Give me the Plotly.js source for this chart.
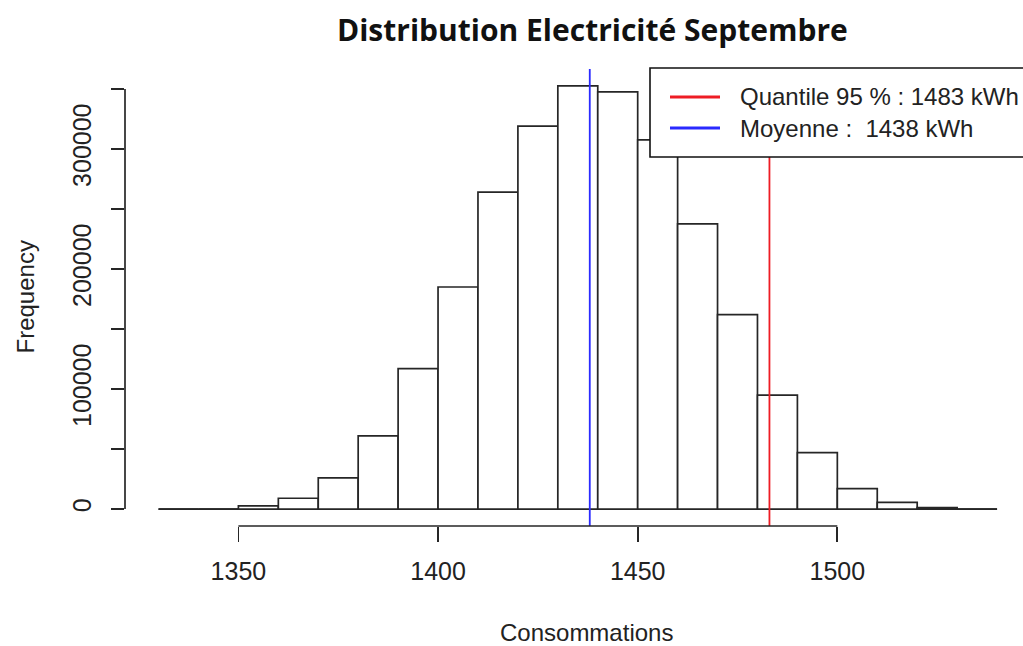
<!DOCTYPE html>
<html>
<head>
<meta charset="utf-8">
<script src="https://cdn.plot.ly/plotly-3.0.1.min.js"></script>
<style>html,body{margin:0;padding:0;background:#fff;}</style>
</head>
<body>
<div id="chart" style="width:1023px;height:646px;"></div>
<script>
// ---- data ----
const binStarts = [1330, 1340, 1350, 1360, 1370, 1380, 1390, 1400, 1410, 1420, 1430, 1440, 1450, 1460, 1470, 1480, 1490, 1500, 1510, 1520, 1530];
const counts    = [0, 0, 2700, 9000, 26000, 61000, 117000, 185000, 264000, 319000, 352500, 347500, 307500, 237500, 162000, 95000, 47000, 17000, 5500, 1200, 0];
const binWidth = 10;
const meanValue = 1438;
const quantile95 = 1483;
const xTickVals = [1350, 1400, 1450, 1500];
const yTickVals = [0, 50000, 100000, 150000, 200000, 250000, 300000, 350000];
const yTickText = ["0", "", "100000", "", "200000", "", "300000", ""];
const titleText = "Distribution Electricité Septembre";
const xTitle = "Consommations";
const yTitle = "Frequency";
const legendLabels = ['Quantile 95 % : ' + quantile95 + ' kWh', 'Moyenne :\u00a0 ' + meanValue + ' kWh'];
const legendColors = ['#ee1c24', '#2a2aff'];

// ---- derived ----
const centers = binStarts.map(b => b + binWidth / 2);
const xMinData = binStarts[0];
const xMaxData = binStarts[binStarts.length - 1] + binWidth;
const maxCount = Math.max(...counts);
const xr = [xMinData - 0.04 * (xMaxData - xMinData), 1546.5];
const yr = [-0.04 * maxCount, 1.04 * maxCount];

const axCol = '#262626';
const fontFam = 'Liberation Sans, Arial, sans-serif';

// plot-area pixel helpers for the legend box (plot area: x 125..1023, y 69..526)
const PL = 125, PW = 898, PT = 69, PH = 457;
const px = v => (v - PL) / PW;
const py = v => (PT + PH - v) / PH;

const traces = [
  {
    type: 'bar', x: centers, y: counts, width: binWidth,
    marker: {color: '#ffffff', line: {color: axCol, width: 1.7}},
    showlegend: false, hoverinfo: 'skip'
  },
  {
    type: 'scatter', mode: 'lines', x: [quantile95, quantile95], y: [0, 1], yaxis: 'y2',
    line: {color: legendColors[0], width: 1.8}, showlegend: false, hoverinfo: 'skip'
  },
  {
    type: 'scatter', mode: 'lines', x: [meanValue, meanValue], y: [0, 1], yaxis: 'y2',
    line: {color: legendColors[1], width: 1.8}, showlegend: false, hoverinfo: 'skip'
  }
];

const shapes = [
  {type: 'line', xref: 'x', yref: 'paper', x0: xTickVals[0], x1: xTickVals[xTickVals.length - 1], y0: 0, y1: 0, line: {color: axCol, width: 1.7}},
  {type: 'line', xref: 'paper', yref: 'y', x0: 0, x1: 0, y0: yTickVals[0], y1: yTickVals[yTickVals.length - 1], line: {color: axCol, width: 1.7}},
  {type: 'line', xref: 'x', yref: 'y', x0: xMinData, x1: xMaxData, y0: 0, y1: 0, line: {color: axCol, width: 1.7}, layer: 'below'},
  // legend box
  {type: 'rect', xref: 'paper', yref: 'paper', x0: px(650), x1: px(1040), y0: py(157), y1: py(68),
   fillcolor: '#ffffff', line: {color: '#111', width: 1.6}, layer: 'above'}
];
const annotations = [
  {text: '<b>' + titleText + '</b>', xref: 'paper', yref: 'paper', x: px(592), y: 1, yshift: 40, xanchor: 'center', yanchor: 'middle', showarrow: false,
   font: {family: 'Open Sans, sans-serif', size: 30, color: '#111'}},
  {text: xTitle, xref: 'paper', yref: 'paper', x: px(586), y: 0, yshift: -106, xanchor: 'center', yanchor: 'middle', showarrow: false,
   font: {size: 24, color: '#222'}},
  {text: yTitle, xref: 'paper', yref: 'paper', x: 0, xshift: -100, y: 0.5, xanchor: 'center', yanchor: 'middle', showarrow: false, textangle: -90,
   font: {size: 24, color: '#222'}}
];
legendLabels.forEach((lab, i) => {
  const yy = 97 + i * 31;
  shapes.push({type: 'line', xref: 'paper', yref: 'paper', x0: px(670), x1: px(720), y0: py(yy), y1: py(yy),
    line: {color: legendColors[i], width: 3}, layer: 'above'});
  annotations.push({text: lab, xref: 'paper', yref: 'paper', x: px(738), y: py(yy), xanchor: 'left', yanchor: 'middle',
    showarrow: false, font: {size: 24, color: '#222'}});
});

const layout = {
  width: 1023, height: 646,
  margin: {l: PL, r: 0, t: PT, b: 646 - PT - PH},
  paper_bgcolor: '#ffffff', plot_bgcolor: '#ffffff',
  font: {family: fontFam, color: '#222'},
  bargap: 0,
  showlegend: false,
  xaxis: {
    range: xr, tickvals: xTickVals, ticks: 'outside', ticklen: 15, tickwidth: 1.7, tickcolor: axCol,
    showgrid: false, zeroline: false, showline: false,
    tickfont: {size: 25, color: '#222'}, ticklabelstandoff: 8
  },
  yaxis: {
    range: yr, tickvals: yTickVals, ticktext: yTickText, ticks: 'outside', ticklen: 13, tickwidth: 1.7, tickcolor: axCol,
    showgrid: false, zeroline: false, showline: false, tickangle: -90,
    tickfont: {size: 25, color: '#222'}, ticklabelstandoff: 10
  },
  yaxis2: {overlaying: 'y', range: [0, 1], visible: false, fixedrange: true},
  shapes: shapes,
  annotations: annotations
};

Plotly.newPlot('chart', traces, layout, {staticPlot: true, displayModeBar: false});
</script>
</body>
</html>
